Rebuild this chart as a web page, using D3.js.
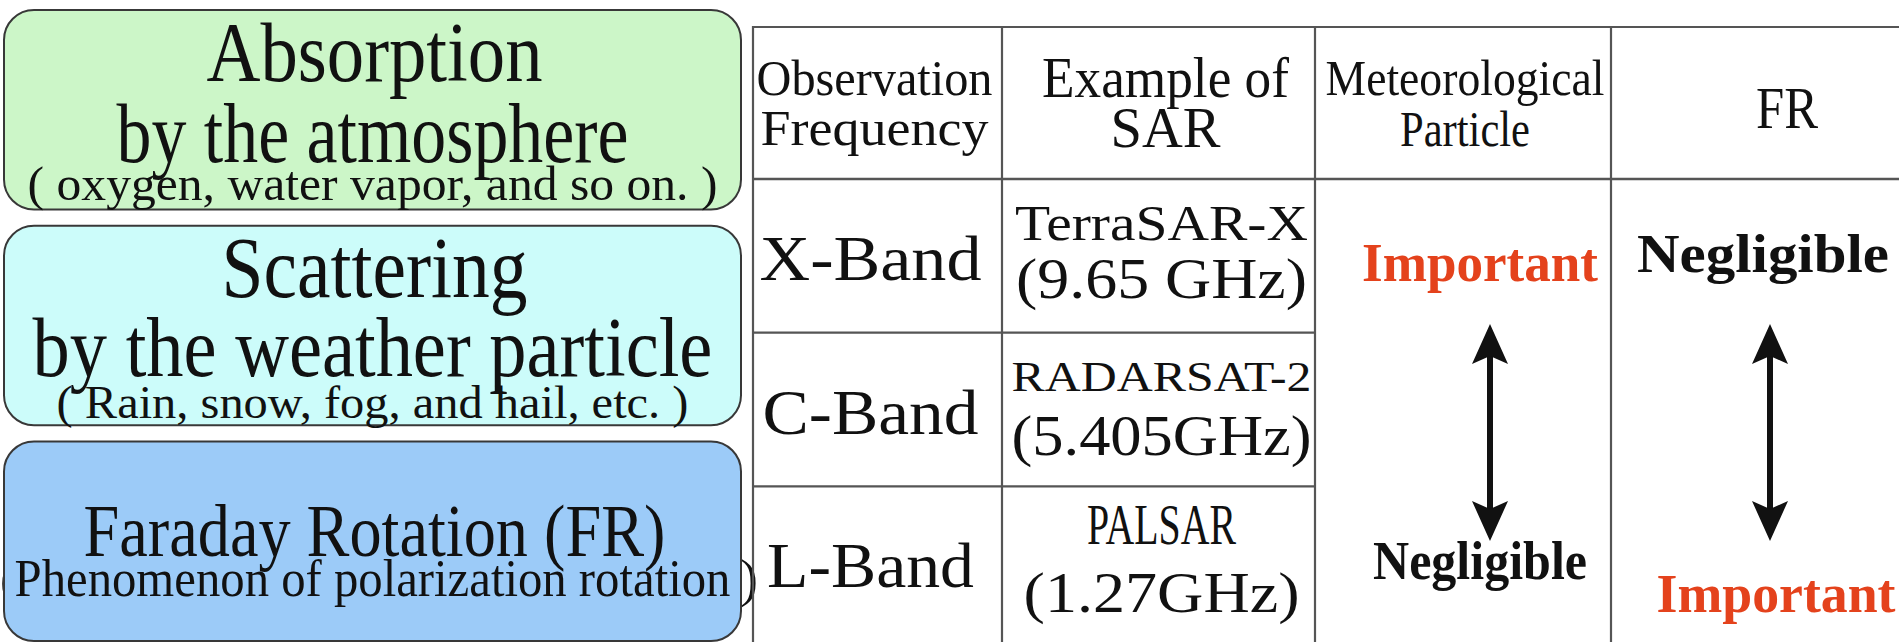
<!DOCTYPE html>
<html>
<head>
<meta charset="utf-8">
<script src="https://cdn.jsdelivr.net/npm/d3@7"></script>
<style>
html,body{margin:0;padding:0;background:#fff;overflow:hidden;}
svg{display:block;}
</style>
</head>
<body>
<svg id="chart" width="1899" height="642"></svg>
<script>
// ---------------- DATA ----------------
const boxTitles    = ["Absorption", "Scattering", "Faraday Rotation (FR)"];
const boxSubtitles = ["by the atmosphere", "by the weather particle", "Phenomenon of polarization rotation"];
const boxNotes     = ["( oxygen, water vapor, and so on. )", "( Rain, snow, fog, and hail, etc. )", ""];
const headerLine1  = ["Observation", "Example of", "Meteorological", "FR"];
const headerLine2  = ["Frequency", "SAR", "Particle", ""];
const bands        = ["X-Band", "C-Band", "L-Band"];
const sarNames     = ["TerraSAR-X", "RADARSAT-2", "PALSAR"];
const sarFreqs     = ["(9.65 GHz)", "(5.405GHz)", "(1.27GHz)"];
const meteoLevels  = ["Important", "Negligible"];   // top (X-Band) -> bottom (L-Band)
const frLevels     = ["Negligible", "Important"];

// ---------------- LAYOUT ----------------
const FONT = "'Liberation Serif', 'Times New Roman', Tinos, Times, serif";
const svg = d3.select("#chart");
const W = 1899, H = 642;
const boxColors = ["#ccf6c8", "#ccfcfa", "#9ccbf8"];
const red = "#e4421c";

function fitText(g, txt, x, y, size, width, opts = {}) {
  const t = g.append("text")
    .attr("x", 0).attr("y", 0)
    .attr("text-anchor", opts.anchor || "middle")
    .attr("font-family", FONT)
    .attr("font-size", size)
    .attr("font-weight", opts.weight || "normal")
    .attr("fill", opts.fill || "#111")
    .text(txt);
  const w = t.node().getComputedTextLength();
  const sx = width ? width / w : 1;
  t.attr("transform", `translate(${x},${y}) scale(${sx},1)`);
  return t;
}

// ---- left boxes ----
const boxX0 = 4, boxX1 = 741;
const yBox = d3.scaleBand().domain(boxTitles).range([10, 641]).paddingInner(0.075).paddingOuter(0);
const boxCx = (boxX0 + boxX1) / 2;

// stray parenthesis mostly hidden behind the blue box at the left edge
fitText(svg, "(", 0, 596, 50, null, {anchor: "start"});

const boxG = svg.append("g");
boxG.selectAll("rect.box").data(boxTitles).join("rect")
  .attr("class", "box")
  .attr("x", boxX0).attr("y", d => yBox(d))
  .attr("width", boxX1 - boxX0).attr("height", yBox.bandwidth())
  .attr("rx", 30).attr("ry", 30)
  .attr("fill", (d, i) => boxColors[i])
  .attr("stroke", "#383838").attr("stroke-width", 2);

// text layout per box: [baseline offset, font size, target width]
const boxTextLayout = [
  {t: [71, 85, 336], s: [152, 84, 512], n: [190, 48, 690]},
  {t: [71, 86, 306], s: [150, 85, 680], n: [192, 46, 632]},
  {t: [115, 75, 582], s: [155, 53, 716], n: null}
];
boxTitles.forEach((title, i) => {
  const y0 = yBox(title), L = boxTextLayout[i];
  fitText(boxG, title, boxCx + 2, y0 + L.t[0], L.t[1], L.t[2]);
  fitText(boxG, boxSubtitles[i], boxCx, y0 + L.s[0], L.s[1], L.s[2]);
  if (boxNotes[i]) fitText(boxG, boxNotes[i], boxCx, y0 + L.n[0], L.n[1], L.n[2]);
});
fitText(svg, ")", 749, yBox(boxTitles[2]) + 155, 53, null);

// ---- table ----
const xCol = d3.scaleLinear().domain([0, 1, 2, 3, 4]).range([753, 1002, 1315, 1611, 1911]);
const colCenter = i => (xCol(i) + xCol(i + 1)) / 2;
const tableTop = 27, headBottom = 179, tableBottom = 642;
const yRow = d3.scaleBand().domain(bands).range([headBottom, 640]);
const lineColor = "#555";

const tg = svg.append("g");
tg.append("line").attr("x1", xCol(0)).attr("x2", W).attr("y1", tableTop).attr("y2", tableTop)
  .attr("stroke", lineColor).attr("stroke-width", 2.2);
tg.append("line").attr("x1", xCol(0)).attr("x2", W).attr("y1", headBottom).attr("y2", headBottom)
  .attr("stroke", lineColor).attr("stroke-width", 2.6);
tg.selectAll("line.v").data([0, 1, 2, 3]).join("line").attr("class", "v")
  .attr("x1", d => xCol(d)).attr("x2", d => xCol(d))
  .attr("y1", tableTop - 1).attr("y2", tableBottom)
  .attr("stroke", lineColor).attr("stroke-width", 2.2);
tg.selectAll("line.r").data(bands.slice(1)).join("line").attr("class", "r")
  .attr("x1", xCol(0)).attr("x2", xCol(2))
  .attr("y1", d => yRow(d)).attr("y2", d => yRow(d))
  .attr("stroke", lineColor).attr("stroke-width", 2.4);

const headLayout = [
  {size: 51, w1: 236, w2: 228, y1: 95, y2: 145, dx: -3},
  {size: 58, w1: 247, w2: 110, y1: 97, y2: 147, dx: 7},
  {size: 51, w1: 279, w2: 130, y1: 95, y2: 146, dx: 2},
  {size: 60, w1: 62,  w2: 0,   y1: 128, y2: 0, dx: 26}
];
headerLine1.forEach((h, i) => {
  const L = headLayout[i];
  fitText(tg, h, colCenter(i) + L.dx, L.y1, L.size, L.w1);
  if (headerLine2[i]) fitText(tg, headerLine2[i], colCenter(i) + L.dx, L.y2, L.size, L.w2);
});

const bandWidths = [222, 216, 207];
bands.forEach((b, i) => {
  fitText(tg, b, colCenter(0) - 7, yRow(b) + 101, 64, bandWidths[i]);
});
const sarNameLayout = [[50, 293], [42, 300], [56, 149]];
const sarFreqWidths = [291, 300, 276];
const sarNameDy = [61, 58, 58];
const sarFreqDy = [119, 122, 126];
bands.forEach((b, i) => {
  fitText(tg, sarNames[i], colCenter(1) + 3, yRow(b) + sarNameDy[i], sarNameLayout[i][0], sarNameLayout[i][1]);
  fitText(tg, sarFreqs[i], colCenter(1) + 3, yRow(b) + sarFreqDy[i], 57, sarFreqWidths[i]);
});

function importanceColumn(levels, cx, arrowX, yTop, yBot, widths, arrowTop, arrowBot) {
  levels.forEach((lv, i) => {
    const y = i === 0 ? yTop : yBot;
    fitText(tg, lv, cx[i], y, 54, widths[i], {weight: "bold", fill: lv === "Important" ? red : "#111"});
  });
  const ag = tg.append("g");
  const hw = 18, hh = 40, notch = 32;
  ag.append("line").attr("x1", arrowX).attr("x2", arrowX)
    .attr("y1", arrowTop + notch - 4).attr("y2", arrowBot - notch + 4)
    .attr("stroke", "#111").attr("stroke-width", 6);
  const head = d3.path();
  head.moveTo(arrowX, arrowTop);
  head.lineTo(arrowX + hw, arrowTop + hh);
  head.lineTo(arrowX, arrowTop + notch);
  head.lineTo(arrowX - hw, arrowTop + hh);
  head.closePath();
  head.moveTo(arrowX, arrowBot);
  head.lineTo(arrowX + hw, arrowBot - hh);
  head.lineTo(arrowX, arrowBot - notch);
  head.lineTo(arrowX - hw, arrowBot - hh);
  head.closePath();
  ag.append("path").attr("d", head.toString()).attr("fill", "#111");
}
importanceColumn(meteoLevels, [1480, 1480], 1490, 281, 579, [236, 214], 324, 541);
importanceColumn(frLevels, [1763, 1776], 1770, 272, 612, [252, 239], 324, 541);
</script>
</body>
</html>
